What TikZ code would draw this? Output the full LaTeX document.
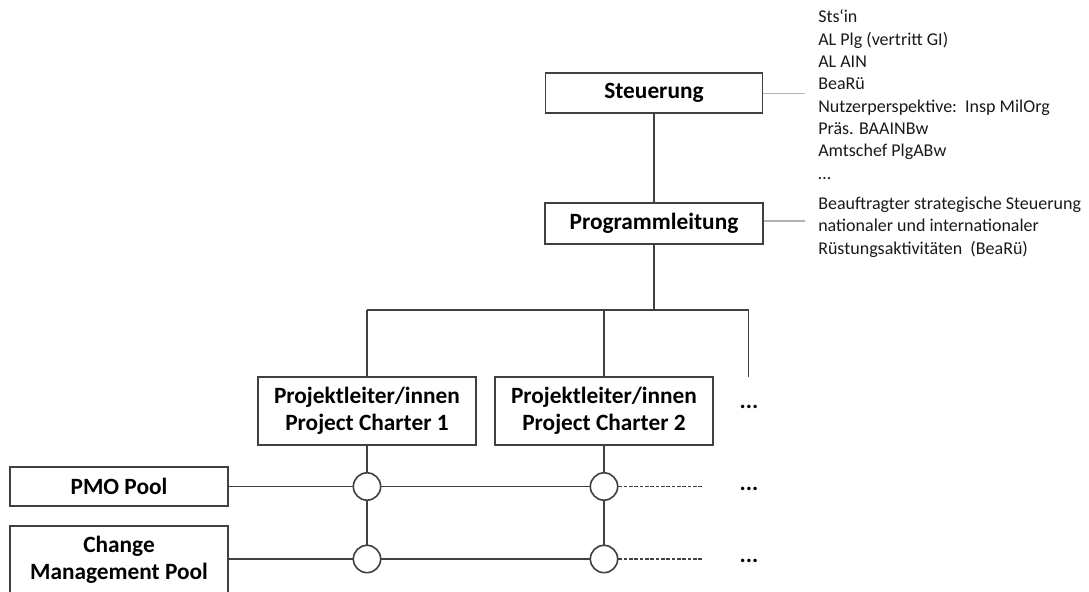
\documentclass[tikz,border=0pt]{standalone}
\usepackage{fontspec}
\setmainfont{Carlito}
\begin{document}
\begin{tikzpicture}[x=0.75pt,y=-0.75pt,
  box/.style={draw=black!75,line width=1.4pt,fill=white,rectangle,inner sep=0pt,
    font=\fontsize{17.5}{20.25}\selectfont\bfseries,align=center},
  conn/.style={draw=black!75,line width=1.4pt},
  junc/.style={draw=black!75,line width=1.2pt,fill=white,circle,minimum size=20.5pt,inner sep=0pt},
  note/.style={anchor=base west,align=left,inner sep=0pt,font=\fontsize{13.5}{16.75}\selectfont,text=black!90},
  noteline/.style={draw=black!30,line width=0.8pt},
  dots/.style={font=\fontsize{17.5}{20}\selectfont\bfseries,inner sep=0pt}
]
\useasboundingbox (0,0) rectangle (1089,592);

% boxes
\node[box,minimum width=162.75pt,minimum height=30pt] (st) at (654,93) {Steuerung};
\node[box,minimum width=163.5pt,minimum height=30.75pt] (pl) at (654,223.5) {Programmleitung};
\node[box,minimum width=163.5pt,minimum height=51.4pt] (pc1) at (367,411) {Projektleiter/innen\\Project Charter 1};
\node[box,minimum width=163.5pt,minimum height=51.4pt] (pc2) at (604,411) {Projektleiter/innen\\Project Charter 2};
\node[box,minimum width=163.5pt,minimum height=29.25pt] (pmo) at (119,486.5) {PMO Pool};
\node[box,minimum width=163.5pt,minimum height=51pt] (cm) at (119,560) {Change\\Management Pool};

% junctions
\node[junc] (j11) at (367,486.5) {};
\node[junc] (j12) at (367,559) {};
\node[junc] (j21) at (604,486.5) {};
\node[junc] (j22) at (604,559) {};

% bus coordinates
\coordinate (busm) at (654,310);
\coordinate (bus1) at (367,310);
\coordinate (bus2) at (604,310);
\coordinate (bus3) at (748.5,310);
\coordinate (d3) at (748.5,376.5);
\coordinate (dash1) at (702,486.5);
\coordinate (dash2) at (702,559);

% connectors
\draw[conn] (st.south) -- (pl.north);
\draw[conn] (pl.south) -- (busm);
\draw[conn] (bus1) -- (bus3) -- (d3);
\draw[conn] (bus1) -- (pc1.north);
\draw[conn] (bus2) -- (pc2.north);
\draw[conn] (pc1.south) -- (j11.north);
\draw[conn] (j11.south) -- (j12.north);
\draw[conn] (pc2.south) -- (j21.north);
\draw[conn] (j21.south) -- (j22.north);
\draw[conn] (pmo.east) -- (j11.west);
\draw[conn] (j11.east) -- (j21.west);
\draw[conn] (cm.east |- j12) -- (j12.west);
\draw[conn] (j12.east) -- (j22.west);
\draw[draw=black!75,line width=1.1pt,dash pattern=on 2.6pt off 1.4pt] (j21.east) -- (dash1);
\draw[draw=black!75,line width=1.1pt,dash pattern=on 2.6pt off 1.4pt] (j22.east) -- (dash2);

% dots
\node[dots] (dt1) at (749,407) {...};
\node[dots] (dt2) at (749,488.5) {...};
\node[dots] (dt3) at (749,560.5) {...};

% annotations
\coordinate (n1) at (805,93.3);
\coordinate (n2) at (805,221);
\draw[noteline] (st.east |- n1) -- (n1);
\draw[noteline] (pl.east |- n2) -- (n2);
\node[note] (t1) at (818,179) {Sts‘in\\AL Plg (vertritt GI)\\AL AIN\\BeaRü\\Nutzerperspektive:\ \ Insp MilOrg\\Präs. BAAINBw\\Amtschef PlgABw\\…};
\node[note] (t2) at (818,254) {Beauftragter strategische Steuerung\\nationaler und internationaler\\Rüstungsaktivitäten\ \ (BeaRü)};
\end{tikzpicture}
\end{document}
